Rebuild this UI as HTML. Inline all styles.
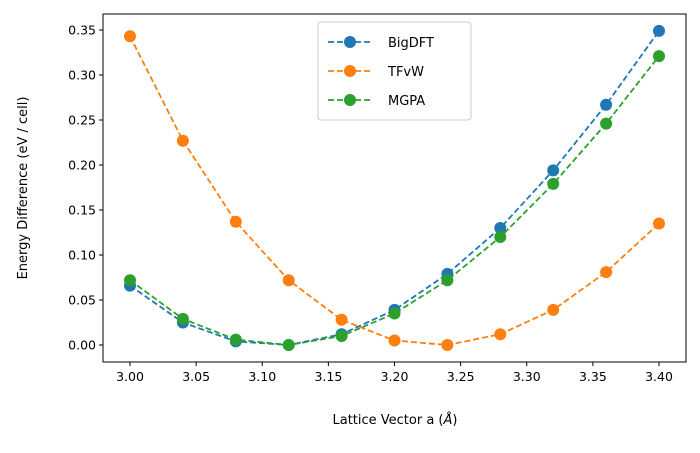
<!DOCTYPE html>
<html><head><meta charset="utf-8"><style>
body{margin:0;background:#fff}
svg{font-family:"DejaVu Sans","Liberation Sans",sans-serif}
</style></head><body>
<svg id="c" width="700" height="448" xmlns="http://www.w3.org/2000/svg"></svg>
<script>
const xs=[3.00,3.04,3.08,3.12,3.16,3.20,3.24,3.28,3.32,3.36,3.40];
const bigdft=[0.066,0.025,0.004,0.0,0.012,0.039,0.079,0.130,0.194,0.267,0.349];
const tfvw=[0.343,0.227,0.137,0.072,0.028,0.005,0.0,0.012,0.039,0.081,0.135];
const mgpa=[0.072,0.029,0.006,0.0,0.010,0.035,0.072,0.120,0.179,0.246,0.321];
const xTicks=["3.00","3.05","3.10","3.15","3.20","3.25","3.30","3.35","3.40"];
const yTicks=["0.00","0.05","0.10","0.15","0.20","0.25","0.30","0.35"];
const seriesNames=["BigDFT","TFvW","MGPA"];
const colors=["#1f77b4","#ff7f0e","#2ca02c"];
const svg=document.getElementById('c');const NS='http://www.w3.org/2000/svg';
const L=103,R=686,T=14,B=362;
const X=v=>130+(v-3.0)/0.4*529;
const Y=v=>345-v/0.35*315;
function mk(t,a,p){const e=document.createElementNS(NS,t);for(const k in a)e.setAttribute(k,a[k]);(p||svg).appendChild(e);return e;}
let f=mk('rect',{x:L,y:T,width:R-L,height:B-T,fill:'none',stroke:'#000','stroke-width':1});


xTicks.forEach(t=>{const x=X(+t);
 let l=mk('line',{x1:x,x2:x,y1:B,y2:B+4,stroke:'#000'});
 
 
 let s=mk('text',{x:x,y:B+19,'text-anchor':'middle','font-size':12.5});s.textContent=t;
 
 });
yTicks.forEach(t=>{const y=Y(+t);
 let l=mk('line',{x1:L-4,x2:L,y1:y,y2:y,stroke:'#000'});
 
 
 let s=mk('text',{x:L-7,y:y+4.5,'text-anchor':'end','font-size':12.5});s.textContent=t;
 
 });
let xt=mk('text',{x:395,y:424,'text-anchor':'middle','font-size':13});xt.innerHTML='Lattice Vector a (<tspan font-style="italic">Å</tspan>)';


let yt=mk('text',{x:0,y:0,'text-anchor':'middle','font-size':13,transform:`translate(27,${(T+B)/2}) rotate(-90)`});yt.textContent='Energy Difference (eV / cell)';


[bigdft,tfvw,mgpa].forEach((d,i)=>{
 const g=mk('g',{});
 
 
 mk('polyline',{points:d.map((v,j)=>X(xs[j])+','+Y(v)).join(' '),fill:'none',stroke:colors[i],'stroke-width':1.8,'stroke-dasharray':'6,3'},g);
 d.forEach((v,j)=>{const c=mk('circle',{cx:X(xs[j]),cy:Y(v),r:6,fill:colors[i]},g);
  
  });
});
const lg=mk('g',{});


mk('rect',{x:318,y:22,width:153,height:98,rx:3,fill:'#fff',stroke:'#ccc'},lg);
seriesNames.forEach((n,i)=>{const y=42+i*29;
 const e=mk('g',{},lg);
 
 
 mk('line',{x1:328,x2:372,y1:y,y2:y,stroke:colors[i],'stroke-width':1.8,'stroke-dasharray':'6,3'},e);
 mk('circle',{cx:350,cy:y,r:6,fill:colors[i]},e);
 const t=mk('text',{x:388,y:y+5,'font-size':13},e);t.textContent=n;});
</script>
</body></html>
